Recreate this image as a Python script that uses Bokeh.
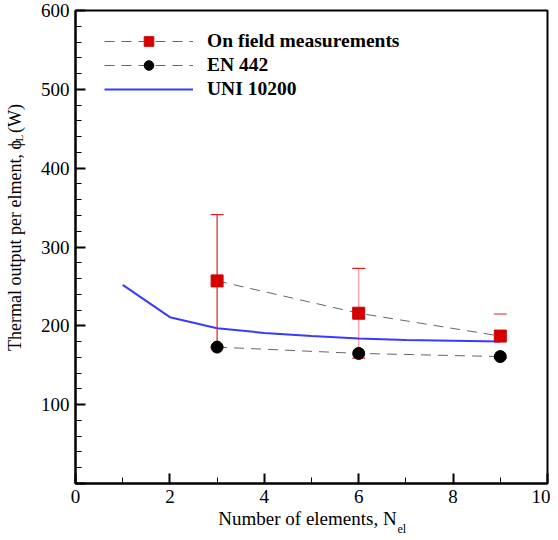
from bokeh.plotting import figure
from bokeh.models import FixedTicker, Legend, LegendItem, LinearAxis, Range1d
from bokeh.embed import file_html
from bokeh.resources import INLINE

# ---- data ----
n_field = [3, 6, 9]
q_field = [257, 216, 187]
err_field = [84, 57, 28]

n_en = [3, 6, 9]
q_en = [173, 165, 161]

n_uni = [1, 2, 3, 4, 5, 6, 7, 8, 9]
q_uni = [252, 211, 197, 191, 187, 184, 182, 181, 180]

x_ticks = [0, 2, 4, 6, 8, 10]
x_minor = [1, 3, 5, 7, 9]
y_ticks = [0, 100, 200, 300, 400, 500, 600]
y_minor = [v for v in range(20, 600, 20) if v % 100 != 0]

x_title = "Number of elements, N"
x_title_sub = "el"
y_title = "Thermal output per elment, \u03d5"
y_title_sub = "L"
y_title_unit = "(W)"

FONT = "Liberation Serif"

# ---- layout constants for the axis titles (data-space anchors along the axes) ----
X_TITLE_AT = 4.915
X_SUB_AT = 6.914
Y_TITLE_AT = 302
Y_SUB_AT = 438
Y_UNIT_AT = 463

upper = [q + e for q, e in zip(q_field, err_field)]
lower = [q - e for q, e in zip(q_field, err_field)]
stem_alpha = [1.0, 0.45, 0.0]

p = figure(frame_width=472, frame_height=473, min_border_left=75, min_border_right=3,
           min_border_top=10, min_border_bottom=40,
           x_range=Range1d(0, 10), y_range=Range1d(0, 600),
           output_backend="svg", toolbar_location=None)
p.xgrid.visible = False
p.ygrid.visible = False
p.outline_line_color = "black"
p.outline_line_width = 2
p.background_fill_color = "white"
p.border_fill_color = "white"

for ax in (p.xaxis[0], p.yaxis[0]):
    ax.axis_line_width = 2
    ax.axis_line_color = "black"
    ax.major_tick_in = 10
    ax.major_tick_out = 0
    ax.minor_tick_in = 6
    ax.minor_tick_out = 0
    ax.major_tick_line_width = 2
    ax.minor_tick_line_width = 1
    ax.major_label_text_font = FONT
    ax.major_label_text_font_size = "19px"
    ax.major_label_text_color = "black"
    ax.major_label_standoff = 6

p.xaxis.ticker = FixedTicker(ticks=x_ticks, minor_ticks=x_minor)
p.yaxis.ticker = FixedTicker(ticks=y_ticks, minor_ticks=y_minor)
p.yaxis.major_label_overrides = {0: ""}


def text_axis(ticks, overrides, size, standoff, side):
    ax = LinearAxis(ticker=FixedTicker(ticks=ticks, minor_ticks=[]),
                    major_label_overrides=overrides,
                    axis_line_color=None, major_tick_line_color=None,
                    minor_tick_line_color=None, major_tick_in=0, major_tick_out=0,
                    minor_tick_in=0, minor_tick_out=0,
                    major_label_standoff=standoff,
                    major_label_text_font=FONT, major_label_text_font_size=size,
                    major_label_text_color="black")
    if side == "left":
        ax.major_label_orientation = "vertical"
    p.add_layout(ax, side)
    return ax


# x title (main text, then the subscript)
text_axis([X_TITLE_AT], {X_TITLE_AT: x_title}, "19px", 2, "below")
text_axis([X_SUB_AT], {X_SUB_AT: x_title_sub}, "12px", -10, "below")
# y title (subscript column next to the tick labels, then the main text)
text_axis([Y_SUB_AT], {Y_SUB_AT: y_title_sub}, "11px", 12, "left")
text_axis([Y_TITLE_AT, Y_UNIT_AT], {Y_TITLE_AT: y_title, Y_UNIT_AT: y_title_unit},
          "18px", -15, "left")

# UNI 10200
r_uni = p.line(n_uni, q_uni, line_color="#3a3aff", line_width=2)

# error bars (stems + caps)
p.segment(x0=n_field, y0=lower, x1=n_field, y1=upper, line_color="#e02020",
          line_width=1.2, line_alpha=stem_alpha)
p.scatter(n_field, upper, marker="dash", size=13, line_color="#e02020", line_width=1.2)
p.scatter(n_field, lower, marker="dash", size=13, line_color="#e02020", line_width=1.2)

# On field
r_fl = p.line(n_field, q_field, line_color="#555555", line_width=0.9, line_dash="10 7")
r_fm = p.scatter(n_field, q_field, marker="square", size=12, fill_color="#d40000",
                 line_color="#d40000")
# EN 442
r_el = p.line(n_en, q_en, line_color="#555555", line_width=0.9, line_dash="10 7")
r_em = p.scatter(n_en, q_en, marker="circle", size=12, fill_color="black",
                 line_color="black")

legend = Legend(items=[
    LegendItem(label="On field measurements", renderers=[r_fl, r_fm]),
    LegendItem(label="EN 442", renderers=[r_el, r_em]),
    LegendItem(label="UNI 10200", renderers=[r_uni]),
], location=(29, 382), glyph_width=89, glyph_height=24, label_height=24,
    label_standoff=14, spacing=0, padding=0, margin=0,
    border_line_color=None, background_fill_alpha=0,
    label_text_font=FONT, label_text_font_size="19.5px", label_text_font_style="bold",
    label_text_color="black")
p.add_layout(legend, "center")

open("out.html", "w").write(file_html(p, INLINE))
